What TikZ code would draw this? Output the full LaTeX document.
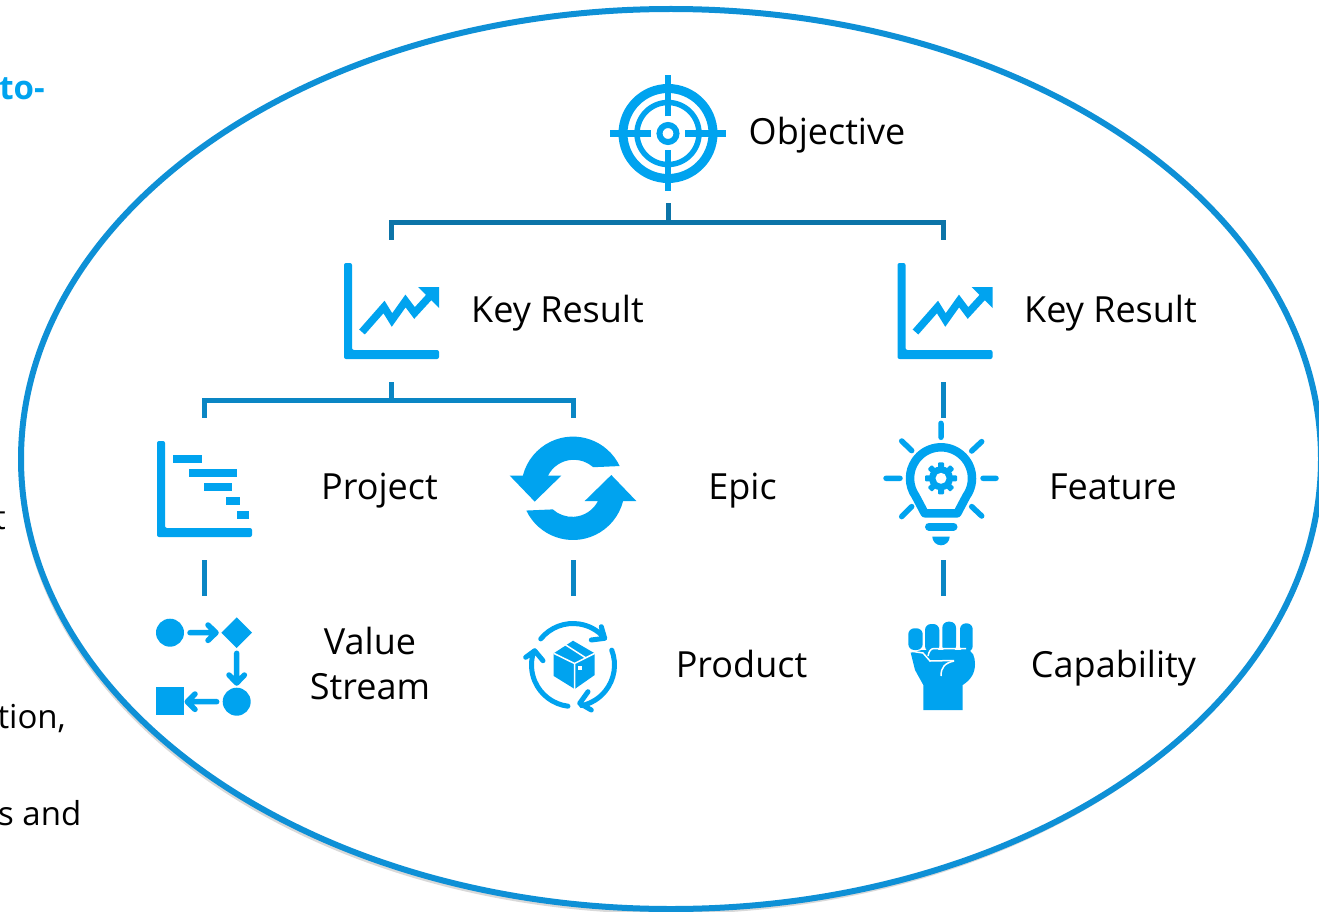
\documentclass[tikz,border=0pt]{standalone}
\usepackage{fontspec}
\setmainfont{Open Sans}
\usetikzlibrary{shapes.geometric,shadows}
\definecolor{iconblue}{HTML}{00A3EF}
\definecolor{ringblue}{HTML}{0E90D6}
\definecolor{topline}{HTML}{0C74A8}
\definecolor{subline}{HTML}{0A86C4}

\begin{document}
\begin{tikzpicture}[x=1pt,y=1pt,node distance=178pt,
  icon node/.style={rectangle,minimum width=100pt,minimum height=142pt,inner sep=0pt},
  text node/.style={inner sep=0pt,align=center,text height=26pt,text depth=0pt,font=\fontsize{36}{45}\selectfont},
  side node/.style={inner sep=0pt,anchor=base east,font=\fontsize{33}{36}\selectfont},
  top link/.style={draw=topline,line width=5pt},
  sub link/.style={draw=subline,line width=5pt},
  ray/.style={draw=iconblue,line width=5.5pt,line cap=round},
  target icon/.pic={
    \draw[iconblue,line width=9pt] (0,0) circle (45);
    \draw[iconblue,line width=5.5pt] (0,0) circle (31);
    \draw[iconblue,line width=6pt] (0,0) circle (8.5);
    \foreach \a in {0,90,180,270}
      \draw[iconblue,line width=6.5pt,rotate=\a] (17,0) -- (58,0);
  },
  chart axes/.pic={
    \fill[iconblue,rounded corners=2pt] (-47,48) -- (-39,48) -- (-39,-39) -- (48,-39) -- (48,-48) -- (-47,-48) -- cycle;
  },
  trend icon/.pic={
    \pic {chart axes};
    \draw[iconblue,line width=7.5pt,line join=miter] (-29,-21) -- (-7,4) -- (1,-9) -- (14.5,10) -- (23.5,-2) -- (40,16);
    \fill[iconblue] (27,24) -- (48,24) -- (48,3) -- cycle;
  },
  gantt icon/.pic={
    \pic {chart axes};
    \fill[iconblue] (-30.7,34) rectangle (-2.3,26);
    \fill[iconblue] (-15,20) rectangle (32.7,12);
    \fill[iconblue] (0.3,6) rectangle (28.3,-2);
    \fill[iconblue] (21.7,-8) rectangle (35.7,-16);
    \fill[iconblue] (32.7,-22) rectangle (45.3,-30);
  },
  flow icon/.pic={
    \fill[iconblue] (-34,34.3) circle (14);
    \fill[iconblue] (32.7,49.6) -- (48,34.3) -- (32.7,19) -- (17.4,34.3) -- cycle;
    \fill[iconblue] (32.7,-34.7) circle (14);
    \fill[iconblue] (-48,-20.3) rectangle (-19.7,-48.3);
    \draw[iconblue,line width=5.5pt,line cap=round,line join=round]
      (-14,34.3) -- (12,34.3) (4,42) -- (12,34.3) -- (4,26.6)
      (32.7,13.7) -- (32.7,-16) (25,-8) -- (32.7,-16) -- (40.4,-8)
      (12.7,-34.7) -- (-16.7,-34.7) (-9,-27) -- (-16.7,-34.7) -- (-9,-42.4);
  },
  cycle icon/.pic={
    \foreach \a in {0,180}
      \fill[iconblue,rotate=\a] (25.5:51.7) arc (25.5:165.7:51.7) -- (-63.3,12.7) -- (-38.3,-13.3) -- (-11.7,12.7) -- (-25,12.7)
        arc (153:48:29) -- cycle;
  },
  box icon/.pic={
    \draw[iconblue,line width=5pt,line cap=round,line join=round]
      (141:41.5) arc (141:42:41.5) (28.3,38.3) -- (31.7,26.7) -- (18.3,25)
      (21:41.5) arc (21:-78:41.5) (15,-26.7) -- (6.7,-38.3) -- (18.3,-45)
      (263:41.5) arc (263:163:41.5) (-47.3,7.7) -- (-38.3,14.3) -- (-30,4.3);
    \fill[iconblue] (0,24.3) -- (21.7,11.7) -- (21.7,-10) -- (1.7,-24) -- (-19.3,-11) -- (-19.3,11.7) -- cycle;
    \draw[white,line width=1.5pt] (-19.3,11.7) -- (1.5,1.5) -- (21.7,11.7) (1.5,1.5) -- (1.7,-24) (-8,20.5) -- (13,7);
    \fill[white] (4.5,-1) rectangle (8.5,-5);
  },
  bulb icon/.pic={
    \draw[iconblue,line width=8.5pt,line join=round] (16.3,-35) -- (-35:31) arc (-35:215:31) -- (-16.3,-35) -- cycle;
    \fill[iconblue] (0,0) circle (12);
    \foreach \a in {0,45,...,315}
      \fill[iconblue,rotate=\a,rounded corners=1pt] (-3,9) rectangle (3,16);
    \fill[white] (0,0) circle (5.5);
    \draw[ray] (0,55) -- (0,41) (-55,0) -- (-41,0) (55,0) -- (42,0)
      (-39.3,37.3) -- (-29.3,27.7) (40.7,36.7) -- (30.7,27.3)
      (-39.3,-38.3) -- (-29.3,-28.3) (40.7,-37.7) -- (30.7,-28.3);
    \draw[iconblue,line width=8pt,line cap=round] (-12,-48.3) -- (12.5,-48.3);
    \fill[iconblue] (-8.7,-58.3) arc (180:360:8.7) -- cycle;
  },
  fist icon/.pic={
    \fill[iconblue,rounded corners=6pt] (-33.7,38.7) rectangle (-19.3,17);
    \fill[iconblue,rounded corners=6pt] (-17,43) rectangle (-2.7,15);
    \fill[iconblue,rounded corners=6pt] (0.3,45.3) rectangle (14,15);
    \fill[iconblue,rounded corners=6pt] (18,43.7) rectangle (30.7,15);
    \fill[iconblue] (-31.3,14.3) -- (-27,-3) -- (-18.7,-18) -- (-18.7,-43) -- (20.7,-43) -- (20.7,-18)
      .. controls (30,-12) and (33,-5) .. (33,3) .. controls (33,10) and (31,17) .. (24,17) -- (-20,17) -- cycle;
    \draw[white,line width=1.5pt] (-32,16) -- (-19,14) -- (-12,6) -- (12,6.5);
    \draw[white,line width=1.5pt] (-14,11) .. controls (-13,16) and (-11,18.5) .. (-8,18.5) -- (24,18.5);
    \draw[white,line width=1.5pt] (12,6) .. controls (3,4) and (-1,0) .. (-1,-9);
  }]

  \useasboundingbox (0,0) rectangle (1319,-912);

  \node[ellipse,draw=ringblue,fill=white,line width=6pt,minimum width=1300pt,minimum height=900pt,inner sep=0pt,
    drop shadow={shadow xshift=-2pt,shadow yshift=-5pt,opacity=0.3}] (boundary) at (671,-459) {};

  % text running in from the left edge
  \node[side node,text=iconblue,font=\fontsize{33}{36}\selectfont\bfseries] (sidetop) at (45,-100) {to-};
  \node[side node] (sidea) at (6,-529) {t};
  \node[side node] (sideb) at (66,-728) {tion,};
  \node[side node] (sidec) at (81.5,-825) {s and};

  \node[icon node] (objective) at (668,-132) {};
  \node[icon node] (krleft) [below of=objective,xshift=-277pt,yshift=-1pt] {};
  \node[icon node] (krright) at (943.5,-311) {};
  \node[icon node] (project) [below of=krleft,xshift=-187pt] {};
  \node[icon node] (epic) [below of=krleft,xshift=182pt] {};
  \node[icon node] (feature) [below of=krright] {};
  \node[icon node] (valuestream) [below of=project] {};
  \node[icon node] (product) [below of=epic] {};
  \node[icon node] (capability) [below of=feature] {};

  \coordinate (topsplit) at (668,-222);
  \coordinate (subsplit) at (391,-400);

  \pic at ([yshift=-1.5pt]objective.center) {target icon};
  \pic at (krleft.center) {trend icon};
  \pic at ([xshift=1pt]krright.center) {trend icon};
  \pic at (project.center) {gantt icon};
  \pic at ([yshift=0.7pt]epic.center) {cycle icon};
  \pic at ([xshift=-2.5pt,yshift=10.7pt]feature.center) {bulb icon};
  \pic at (valuestream.center) {flow icon};
  \pic at ([yshift=2pt]product.center) {box icon};
  \pic at ([xshift=-1.5pt]capability.center) {fist icon};

  \node[text node] (objectivetext) [right of=objective,xshift=-19pt] {Objective};
  \node[text node] (krlefttext) [right of=krleft,xshift=-11.5pt,yshift=2pt] {Key Result};
  \node[text node] (krrighttext) [right of=krright,xshift=-11pt,yshift=2pt] {Key Result};
  \node[text node] (projecttext) [right of=project,xshift=-2.5pt,yshift=3pt] {Project};
  \node[text node] (epictext) [right of=epic,xshift=-8.5pt,yshift=3pt] {Epic};
  \node[text node] (featuretext) [right of=feature,xshift=-8.5pt,yshift=3pt] {Feature};
  \node[text node,text height=,text depth=] (valuestreamtext) [right of=valuestream,xshift=-12pt,yshift=3.5pt] {Value\\Stream};
  \node[text node] (producttext) [right of=product,xshift=-9.5pt,yshift=2.5pt] {Product};
  \node[text node] (capabilitytext) [right of=capability,xshift=-8pt,yshift=3pt] {Capability};

  \path[top link]
    (objective.south) edge (topsplit);
  \draw[top link] (krleft.north) |- (topsplit) -| (krright.north);

  \path[sub link]
    (krleft.south) edge (subsplit)
    (krright.south) edge (feature.north)
    (feature.south) edge (capability.north)
    (project.south) edge (valuestream.north)
    (epic.south) edge (product.north);
  \draw[sub link] (project.north) |- (subsplit) -| (epic.north);
\end{tikzpicture}
\end{document}
